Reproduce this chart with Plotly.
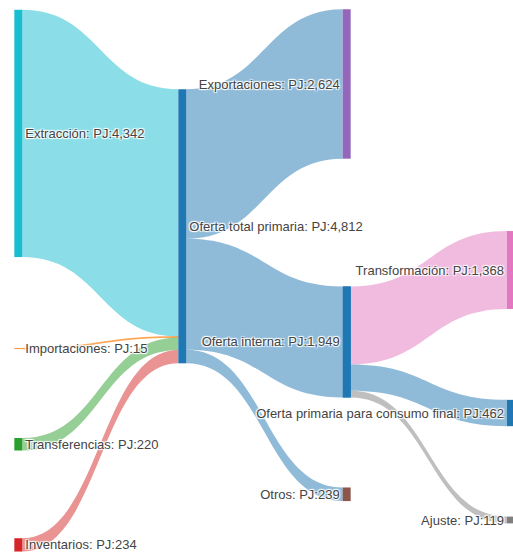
import plotly.graph_objects as go

# ---------------- Data ----------------
node_names = ["Extracción", "Importaciones", "Transferencias", "Inventarios",
              "Oferta total primaria", "Exportaciones", "Oferta interna", "Otros",
              "Transformación", "Oferta primaria para consumo final", "Ajuste"]
node_values = [4342, 15, 220, 234, 4812, 2624, 1949, 239, 1368, 462, 119]
node_colors = ["#17becf", "#ff7f0e", "#2ca02c", "#d62728", "#1f77b4", "#9467bd",
               "#1f77b4", "#8c564b", "#e377c2", "#1f77b4", "#7f7f7f"]

link_source = [0, 1, 2, 3, 4, 4, 4, 6, 6, 6]
link_target = [4, 4, 4, 4, 5, 6, 7, 8, 9, 10]
link_value = [4342, 15, 220, 234, 2624, 1949, 239, 1368, 462, 119]
link_colors = ["rgba(23,190,207,0.5)", "rgba(255,127,14,0.5)", "rgba(44,160,44,0.5)",
               "rgba(214,39,40,0.5)", "rgba(31,119,180,0.5)", "rgba(31,119,180,0.5)",
               "rgba(31,119,180,0.5)", "rgba(227,119,194,0.5)", "rgba(31,119,180,0.5)",
               "rgba(127,127,127,0.5)"]

labels = [f"{n}: PJ:{v:,}" for n, v in zip(node_names, node_values)]

# ---------------- Layout (positions, not data) ----------------
# Part A: first three stages (nodes 0-7), labels of last stage drawn on the left
nodes_a = [0, 1, 2, 3, 4, 5, 6, 7]
links_a = [0, 1, 2, 3, 4, 5, 6]
xa = [0.001, 0.001, 0.001, 0.001, 0.5, 1.0, 1.0, 1.0]
ya = [0.240, 0.627, 0.799, 0.980, 0.407, 0.151, 0.615, 0.889]

# Part B: last stage (nodes 6, 8, 9, 10)
nodes_b = [6, 8, 9, 10]
links_b = [7, 8, 9]
xb = [0.001, 1.0, 1.0, 1.0]
yb = [0.4125, 0.1875, 0.6344, 0.96875]

font = dict(family="Liberation Sans, Arial, sans-serif", size=13, color="#444")


def sub_sankey(node_idx, link_idx, xs, ys, pad, domain, blank=()):
    remap = {n: i for i, n in enumerate(node_idx)}
    return go.Sankey(
        arrangement="fixed",
        domain=domain,
        node=dict(
            label=["" if n in blank else labels[n] for n in node_idx],
            color=[node_colors[n] for n in node_idx],
            pad=pad,
            thickness=8,
            line=dict(width=0),
            x=xs,
            y=ys,
        ),
        link=dict(
            source=[remap[link_source[k]] for k in link_idx],
            target=[remap[link_target[k]] for k in link_idx],
            value=[link_value[k] for k in link_idx],
            color=[link_colors[k] for k in link_idx],
        ),
        textfont=font,
    )


fig = go.Figure()
fig.add_trace(sub_sankey(nodes_a, links_a, xa, ya, 94, dict(x=[0, 2/3], y=[0, 1])))
fig.add_trace(sub_sankey(nodes_b, links_b, xb, yb, 104.5,
                         dict(x=[2/3, 1], y=[26/556, 346/556]), blank=(6,)))

fig.update_layout(
    width=513, height=556,
    margin=dict(l=18, r=2, t=0, b=0),
    paper_bgcolor="white",
    font=font,
)

fig.write_html("out.html", post_script="document.body.style.margin='0';",
               config={"displayModeBar": False})
